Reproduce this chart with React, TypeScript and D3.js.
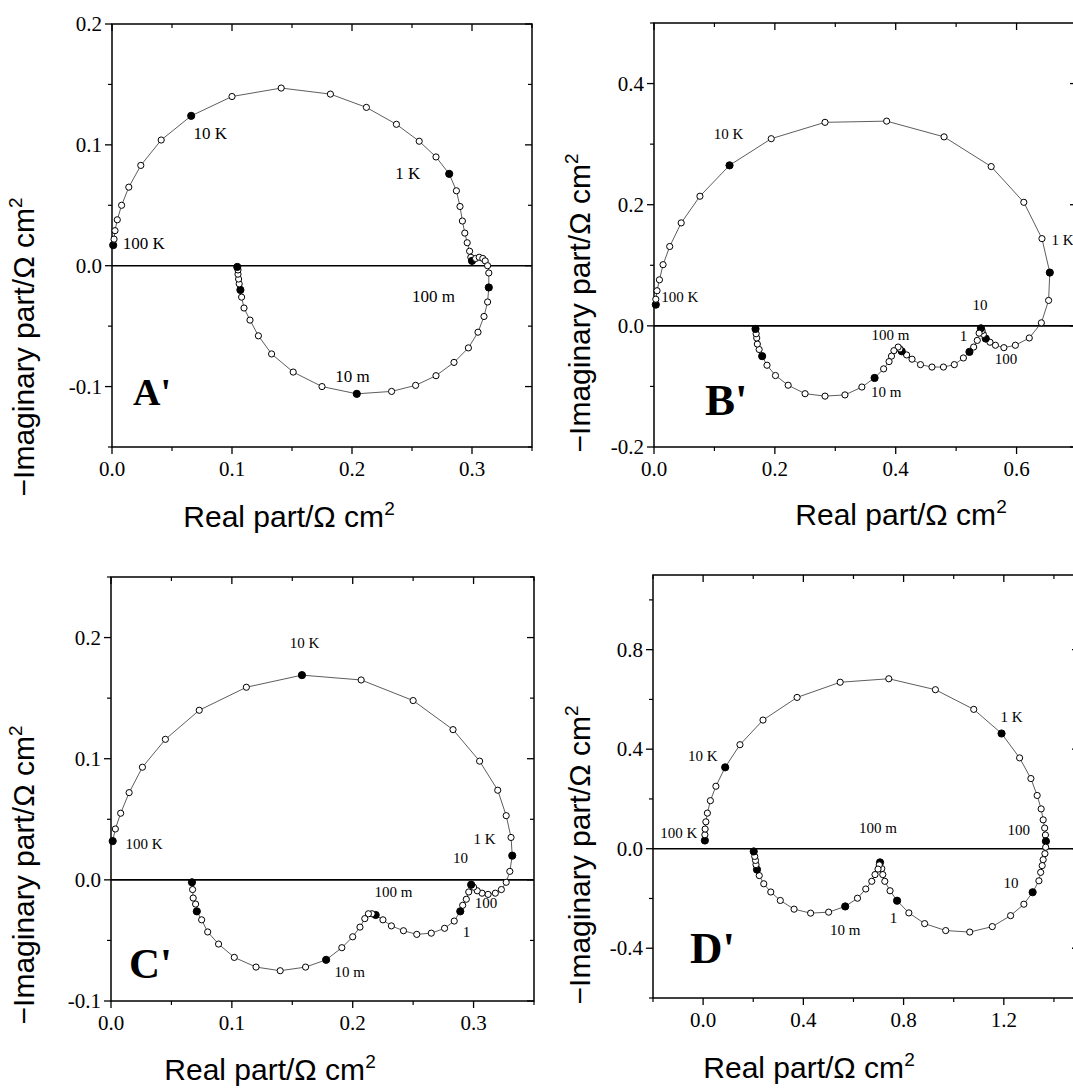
import React from 'react';
import * as d3 from 'd3';

type P = [number, number, number]; // real, -imag, filled

// ---------- Panel A' data ----------
const aPoints: P[] = [
  [0.001, 0.017, 1], [0.0017, 0.022, 0], [0.0025, 0.029, 0], [0.0044, 0.038, 0], [0.008, 0.050, 0],
  [0.014, 0.065, 0], [0.024, 0.083, 0], [0.041, 0.104, 0], [0.066, 0.124, 1], [0.100, 0.140, 0],
  [0.141, 0.147, 0], [0.182, 0.142, 0], [0.212, 0.131, 0], [0.237, 0.117, 0], [0.256, 0.103, 0],
  [0.270, 0.090, 0], [0.281, 0.076, 1], [0.287, 0.062, 0], [0.290, 0.049, 0], [0.292, 0.037, 0],
  [0.294, 0.027, 0], [0.296, 0.019, 0], [0.298, 0.012, 0], [0.299, 0.007, 0], [0.300, 0.004, 1],
  [0.303, 0.006, 0], [0.306, 0.007, 0], [0.309, 0.006, 0], [0.311, 0.004, 0], [0.313, 0.000, 0],
  [0.314, -0.006, 0], [0.314, -0.018, 1], [0.313, -0.030, 0], [0.310, -0.042, 0], [0.305, -0.055, 0],
  [0.297, -0.068, 0], [0.285, -0.080, 0], [0.270, -0.091, 0], [0.253, -0.099, 0], [0.233, -0.104, 0],
  [0.204, -0.106, 1], [0.175, -0.100, 0], [0.151, -0.088, 0], [0.133, -0.073, 0], [0.122, -0.058, 0],
  [0.115, -0.045, 0], [0.110, -0.035, 0], [0.108, -0.026, 0], [0.107, -0.020, 1], [0.106, -0.015, 0],
  [0.1055, -0.011, 0], [0.105, -0.007, 0], [0.105, -0.0035, 0], [0.1044, -0.001, 1],
];
const aLabels: [string, number, number][] = [
  ['100 K', 0.009, 0.019], ['10 K', 0.068, 0.110], ['1 K', 0.236, 0.077],
  ['100 m', 0.250, -0.025], ['10 m', 0.186, -0.091],
];
const aXTicks = [0, 0.1, 0.2, 0.3];
const aXTickText = ['0.0', '0.1', '0.2', '0.3'];
const aXMinor = [0.05, 0.15, 0.25, 0.35];
const aYTicks = [-0.1, 0, 0.1, 0.2];
const aYTickText = ['-0.1', '0.0', '0.1', '0.2'];
const aYMinor = [-0.15, -0.05, 0.05, 0.15];

// ---------- Panel B' data ----------
const bPoints: P[] = [
  [0.003, 0.035, 1], [0.003, 0.044, 0], [0.005, 0.058, 0], [0.009, 0.076, 0], [0.015, 0.101, 0],
  [0.026, 0.131, 0], [0.045, 0.170, 0], [0.076, 0.214, 0], [0.125, 0.265, 1], [0.194, 0.309, 0],
  [0.283, 0.336, 0], [0.385, 0.338, 0], [0.480, 0.312, 0], [0.558, 0.263, 0], [0.612, 0.204, 0],
  [0.642, 0.144, 0], [0.655, 0.088, 1], [0.653, 0.042, 0], [0.641, 0.005, 0], [0.621, -0.020, 0],
  [0.598, -0.032, 0], [0.579, -0.036, 0], [0.565, -0.032, 0], [0.556, -0.027, 0], [0.549, -0.021, 1],
  [0.545, -0.014, 0], [0.543, -0.008, 0], [0.541, -0.004, 1], [0.538, -0.012, 0], [0.535, -0.024, 0],
  [0.529, -0.035, 0], [0.522, -0.043, 1], [0.512, -0.053, 0], [0.497, -0.064, 0], [0.479, -0.068, 0],
  [0.460, -0.068, 0], [0.441, -0.064, 0], [0.427, -0.055, 0], [0.418, -0.048, 0], [0.410, -0.042, 1],
  [0.407, -0.038, 0], [0.404, -0.035, 0], [0.397, -0.041, 0], [0.393, -0.050, 0], [0.389, -0.059, 0],
  [0.380, -0.071, 0], [0.365, -0.086, 1], [0.344, -0.101, 0], [0.316, -0.114, 0], [0.283, -0.116, 0],
  [0.250, -0.112, 0], [0.222, -0.098, 0], [0.201, -0.082, 0], [0.187, -0.065, 0], [0.179, -0.050, 1],
  [0.174, -0.039, 0], [0.171, -0.030, 0], [0.170, -0.020, 0], [0.169, -0.013, 0], [0.168, -0.005, 1],
];
const bLabels: [string, number, number][] = [
  ['100 K', 0.012, 0.048], ['10 K', 0.099, 0.317], ['1 K', 0.658, 0.142], ['10', 0.527, 0.035],
  ['100 m', 0.360, -0.015], ['1', 0.506, -0.016], ['100', 0.564, -0.054], ['10 m', 0.359, -0.109],
];
const bXTicks = [0, 0.2, 0.4, 0.6];
const bXTickText = ['0.0', '0.2', '0.4', '0.6'];
const bXMinor = [0.1, 0.3, 0.5, 0.7];
const bYTicks = [-0.2, 0, 0.2, 0.4];
const bYTickText = ['-0.2', '0.0', '0.2', '0.4'];
const bYMinor = [-0.1, 0.1, 0.3, 0.5];

// ---------- Panel C' data ----------
const cPoints: P[] = [
  [0.0014, 0.032, 1], [0.0036, 0.042, 0], [0.008, 0.055, 0], [0.015, 0.072, 0], [0.026, 0.093, 0],
  [0.045, 0.116, 0], [0.073, 0.140, 0], [0.112, 0.159, 0], [0.158, 0.169, 1], [0.207, 0.165, 0],
  [0.250, 0.148, 0], [0.283, 0.124, 0], [0.305, 0.098, 0], [0.320, 0.074, 0], [0.327, 0.053, 0],
  [0.331, 0.035, 0], [0.332, 0.020, 1], [0.330, 0.007, 0], [0.327, -0.002, 0], [0.323, -0.008, 0],
  [0.318, -0.011, 0], [0.312, -0.012, 0], [0.307, -0.011, 0], [0.303, -0.009, 0], [0.300, -0.006, 0],
  [0.298, -0.004, 1], [0.296, -0.010, 0], [0.294, -0.016, 0], [0.291, -0.021, 0], [0.289, -0.026, 1],
  [0.284, -0.034, 0], [0.276, -0.040, 0], [0.265, -0.044, 0], [0.253, -0.045, 0], [0.242, -0.042, 0],
  [0.232, -0.038, 0], [0.225, -0.033, 0], [0.219, -0.029, 1], [0.216, -0.028, 0], [0.213, -0.028, 0],
  [0.210, -0.032, 0], [0.206, -0.039, 0], [0.200, -0.047, 0], [0.191, -0.056, 0], [0.178, -0.066, 1],
  [0.161, -0.072, 0], [0.140, -0.075, 0], [0.120, -0.072, 0], [0.102, -0.064, 0], [0.089, -0.053, 0],
  [0.080, -0.043, 0], [0.075, -0.033, 0], [0.071, -0.026, 1], [0.070, -0.020, 0], [0.068, -0.015, 0],
  [0.0675, -0.008, 0], [0.067, -0.002, 1],
];
const cLabels: [string, number, number][] = [
  ['100 K', 0.012, 0.030], ['10 K', 0.148, 0.196], ['1 K', 0.300, 0.034], ['10', 0.283, 0.018],
  ['100 m', 0.218, -0.010], ['100', 0.301, -0.019], ['1', 0.291, -0.043], ['10 m', 0.185, -0.076],
];
const cXTicks = [0, 0.1, 0.2, 0.3];
const cXTickText = ['0.0', '0.1', '0.2', '0.3'];
const cXMinor = [0.05, 0.15, 0.25, 0.35];
const cYTicks = [-0.1, 0, 0.1, 0.2];
const cYTickText = ['-0.1', '0.0', '0.1', '0.2'];
const cYMinor = [-0.05, 0.05, 0.15, 0.25];

// ---------- Panel D' data ----------
const dPoints: P[] = [
  [0.007, 0.033, 1], [0.007, 0.056, 0], [0.008, 0.079, 0], [0.011, 0.108, 0], [0.017, 0.143, 0],
  [0.029, 0.193, 0], [0.051, 0.251, 0], [0.088, 0.327, 1], [0.147, 0.418, 0], [0.239, 0.517, 0],
  [0.375, 0.608, 0], [0.547, 0.669, 0], [0.741, 0.683, 0], [0.927, 0.639, 0], [1.080, 0.560, 0],
  [1.191, 0.463, 1], [1.263, 0.365, 0], [1.308, 0.282, 0], [1.333, 0.214, 0], [1.349, 0.160, 0],
  [1.357, 0.116, 0], [1.363, 0.083, 0], [1.366, 0.055, 0], [1.368, 0.030, 1], [1.367, 0.006, 0],
  [1.364, -0.020, 0], [1.357, -0.044, 0], [1.353, -0.068, 0], [1.347, -0.095, 0], [1.340, -0.129, 0],
  [1.315, -0.175, 1], [1.280, -0.223, 0], [1.227, -0.269, 0], [1.154, -0.313, 0], [1.064, -0.335, 0],
  [0.968, -0.329, 0], [0.884, -0.301, 0], [0.821, -0.258, 0], [0.774, -0.209, 1], [0.746, -0.169, 0],
  [0.725, -0.131, 0], [0.717, -0.104, 0], [0.713, -0.080, 0], [0.706, -0.055, 1], [0.703, -0.065, 0],
  [0.698, -0.082, 0], [0.686, -0.104, 0], [0.673, -0.131, 0], [0.649, -0.162, 0], [0.616, -0.199, 0],
  [0.567, -0.232, 1], [0.501, -0.255, 0], [0.429, -0.259, 0], [0.363, -0.243, 0], [0.308, -0.208, 0],
  [0.270, -0.174, 0], [0.242, -0.141, 0], [0.224, -0.108, 0], [0.215, -0.084, 1], [0.211, -0.064, 0],
  [0.209, -0.047, 0], [0.206, -0.031, 0], [0.202, -0.011, 1],
];
const dLabels: [string, number, number][] = [
  ['100 K', -0.171, 0.064], ['10 K', -0.060, 0.373], ['1 K', 1.187, 0.530], ['100', 1.215, 0.076],
  ['100 m', 0.622, 0.084], ['10', 1.199, -0.137], ['10 m', 0.506, -0.325], ['1', 0.745, -0.277],
];
const dXTicks = [0, 0.4, 0.8, 1.2];
const dXTickText = ['0.0', '0.4', '0.8', '1.2'];
const dXMinor = [-0.2, 0.2, 0.6, 1.0, 1.4];
const dYTicks = [-0.4, 0, 0.4, 0.8];
const dYTickText = ['-0.4', '0.0', '0.4', '0.8'];
const dYMinor = [-0.6, -0.2, 0.2, 0.6, 1.0];

interface PanelCfg {
  points: P[];
  labels: [string, number, number][];
  xDomain: [number, number];
  yDomain: [number, number];
  box: [number, number, number, number]; // left, top, right, bottom
  xTicks: number[]; xTickText: string[]; xMinor: number[];
  yTicks: number[]; yTickText: string[]; yMinor: number[];
  letter: string; letterPos: [number, number]; letterSize: number;
  labelSize: number;
  xTitlePos: [number, number];
  yTitlePos: [number, number];
}

const panels: PanelCfg[] = [
  {
    points: aPoints, labels: aLabels, xDomain: [0, 0.35], yDomain: [-0.15, 0.2],
    box: [112, 24, 532, 447],
    xTicks: aXTicks, xTickText: aXTickText, xMinor: aXMinor,
    yTicks: aYTicks, yTickText: aYTickText, yMinor: aYMinor,
    letter: "A'", letterPos: [133, 405], letterSize: 38, labelSize: 17,
    xTitlePos: [289, 527], yTitlePos: [34, 347],
  },
  {
    points: bPoints, labels: bLabels, xDomain: [0, 0.7], yDomain: [-0.2, 0.5],
    box: [654, 23, 1077, 447],
    xTicks: bXTicks, xTickText: bXTickText, xMinor: bXMinor,
    yTicks: bYTicks, yTickText: bYTickText, yMinor: bYMinor,
    letter: "B'", letterPos: [705, 415], letterSize: 45, labelSize: 15,
    xTitlePos: [901, 525], yTitlePos: [590, 303],
  },
  {
    points: cPoints, labels: cLabels, xDomain: [0, 0.35], yDomain: [-0.1, 0.25],
    box: [111, 577, 534, 1001],
    xTicks: cXTicks, xTickText: cXTickText, xMinor: cXMinor,
    yTicks: cYTicks, yTickText: cYTickText, yMinor: cYMinor,
    letter: "C'", letterPos: [129, 978], letterSize: 43, labelSize: 15,
    xTitlePos: [270, 1080], yTitlePos: [34, 875],
  },
  {
    points: dPoints, labels: dLabels, xDomain: [-0.2, 1.5], yDomain: [-0.6, 1.1],
    box: [653, 575, 1079, 998],
    xTicks: dXTicks, xTickText: dXTickText, xMinor: dXMinor,
    yTicks: dYTicks, yTickText: dYTickText, yMinor: dYMinor,
    letter: "D'", letterPos: [690, 963], letterSize: 45, labelSize: 15,
    xTitlePos: [809, 1078], yTitlePos: [590, 855],
  },
];

const SERIF = '"Liberation Serif", "Times New Roman", serif';
const SANS = '"Liberation Sans", Arial, sans-serif';

function Panel({ cfg }: { cfg: PanelCfg }) {
  const [l, t, r, b] = cfg.box;
  const x = d3.scaleLinear().domain(cfg.xDomain).range([l, r]);
  const y = d3.scaleLinear().domain(cfg.yDomain).range([b, t]);
  const line = d3.line<P>().x((d) => x(d[0])).y((d) => y(d[1]));
  const maj = 7;
  const min = 4;
  return (
    <g>
      <rect x={l} y={t} width={r - l} height={b - t} fill="none" stroke="#000" strokeWidth={1.5} />
      <line x1={l} x2={r} y1={y(0)} y2={y(0)} stroke="#000" strokeWidth={1.6} />
      {cfg.xTicks.map((v, i) => (
        <g key={'xt' + i}>
          <line x1={x(v)} x2={x(v)} y1={b} y2={b + maj} stroke="#000" strokeWidth={1.3} />
          <line x1={x(v)} x2={x(v)} y1={t} y2={t + maj} stroke="#000" strokeWidth={1.3} />
          <text x={x(v)} y={b + 29} textAnchor="middle" fontFamily={SERIF} fontSize={21} fill="#000">
            {cfg.xTickText[i]}
          </text>
        </g>
      ))}
      {cfg.xMinor.map((v, i) => (
        <g key={'xm' + i}>
          <line x1={x(v)} x2={x(v)} y1={b} y2={b + min} stroke="#000" strokeWidth={1.2} />
          <line x1={x(v)} x2={x(v)} y1={t} y2={t + min} stroke="#000" strokeWidth={1.2} />
        </g>
      ))}
      {cfg.yTicks.map((v, i) => (
        <g key={'yt' + i}>
          <line x1={l - maj} x2={l} y1={y(v)} y2={y(v)} stroke="#000" strokeWidth={1.3} />
          <line x1={r - maj} x2={r} y1={y(v)} y2={y(v)} stroke="#000" strokeWidth={1.3} />
          <text x={l - 10} y={y(v) + 7} textAnchor="end" fontFamily={SERIF} fontSize={21} fill="#000">
            {cfg.yTickText[i]}
          </text>
        </g>
      ))}
      {cfg.yMinor.map((v, i) => (
        <g key={'ym' + i}>
          <line x1={l - min} x2={l} y1={y(v)} y2={y(v)} stroke="#000" strokeWidth={1.2} />
          <line x1={r - min} x2={r} y1={y(v)} y2={y(v)} stroke="#000" strokeWidth={1.2} />
        </g>
      ))}
      <path d={line(cfg.points) || ''} fill="none" stroke="#333" strokeWidth={0.8} />
      {cfg.points.map((d, i) => (
        <circle
          key={'p' + i}
          cx={x(d[0])}
          cy={y(d[1])}
          r={d[2] ? 3.6 : 3.1}
          fill={d[2] ? '#000' : '#fff'}
          stroke="#000"
          strokeWidth={1}
        />
      ))}
      {cfg.labels.map((lb, i) => (
        <text key={'lb' + i} x={x(lb[1])} y={y(lb[2])} dy="0.35em" fontFamily={SERIF} fontSize={cfg.labelSize} fill="#000">
          {lb[0]}
        </text>
      ))}
      <text x={cfg.letterPos[0]} y={cfg.letterPos[1]} fontFamily={SERIF} fontWeight="bold" fontSize={cfg.letterSize} fill="#000">
        {cfg.letter}
      </text>
      <text x={cfg.xTitlePos[0]} y={cfg.xTitlePos[1]} textAnchor="middle" fontFamily={SANS} fontSize={30} fill="#000">
        Real part/Ω cm<tspan dy={-12} fontSize={19}>2</tspan>
      </text>
      <text
        transform={`translate(${cfg.yTitlePos[0]},${cfg.yTitlePos[1]}) rotate(-90)`}
        textAnchor="middle"
        fontFamily={SANS}
        fontSize={30}
        fill="#000"
      >
        −Imaginary part/Ω cm<tspan dy={-12} fontSize={19}>2</tspan>
      </text>
    </g>
  );
}

export default function App() {
  return (
    <svg width={1073} height={1088} style={{ position: 'absolute', left: 0, top: 0, background: '#fff', overflow: 'hidden' }}>
      <rect x={0} y={0} width={1073} height={1088} fill="#fff" />
      {panels.map((p, i) => (
        <Panel key={i} cfg={p} />
      ))}
    </svg>
  );
}
